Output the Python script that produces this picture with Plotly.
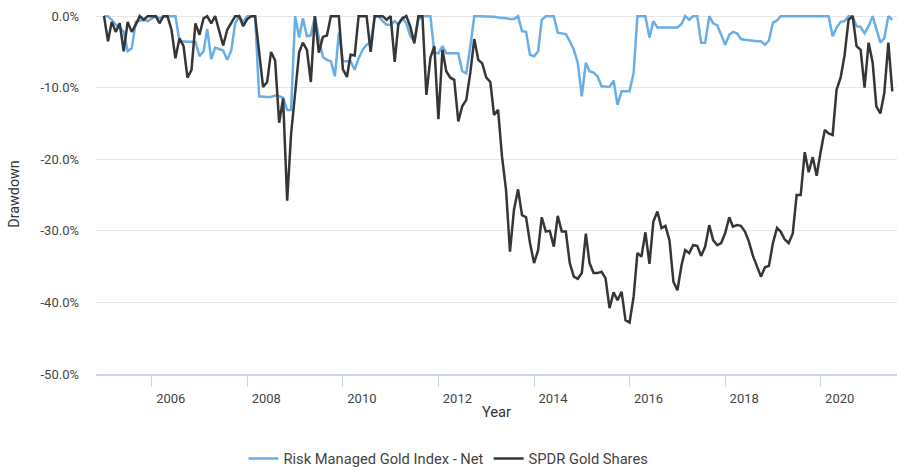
import plotly.graph_objects as go
import pandas as pd

# ---- data (monthly drawdowns, %) ----
start_month = "2005-01-01"

rmgi_net = [
    0, 0, -0.5, -1.2, -1.6, -2.2, -4.9, -4.5, -0.8, -0.6,
    -0.5, -0.7, -0.3, 0, -0.3, 0, 0, 0, 0, -3.5,
    -3.5, -3.5, -3.6, -3.6, -5.6, -4.9, -1.8, -6.0, -4.4, -4.6,
    -4.8, -6.1, -4.8, -1.0, 0, -0.8, 0, 0, 0, -11.2,
    -11.3, -11.3, -11.3, -11.1, -11.2, -11.4, -13.1, -13.1, 0, -3.0,
    -0.3, -2.8, -2.7, 0, -3.0, -5.7, -6.1, -6.3, -8.4, -2.3,
    -6.3, -6.3, -6.3, -7.5, -5.9, -4.7, -4.0, -3.7, 0, 0,
    -0.7, -1.2, -1.2, -0.7, -1.2, -0.3, -1.0, -2.8, -3.5, -0.5,
    0, 0, 0, -5.1, -5.2, -4.2, -5.2, -5.2, -5.2, -5.2,
    -7.7, -8.0, -4.2, 0, 0, 0, -0.1, -0.1, -0.1, -0.2,
    -0.2, -0.3, -0.4, -0.4, 0, -2.1, -2.2, -5.4, -5.6, -4.9,
    -0.5, 0, 0, 0, -2.3, -2.4, -2.5, -3.5, -4.7, -6.5,
    -11.2, -6.5, -7.7, -7.9, -8.4, -9.8, -9.9, -9.9, -9.0, -12.4,
    -10.5, -10.5, -10.5, -7.9, 0, 0, 0, -3.0, -0.7, -1.6,
    -1.6, -1.6, -1.7, -1.7, -1.6, -1.1, 0, -0.5, 0, 0,
    -3.7, -3.7, 0, -1.0, -1.3, -2.6, -4.0, -2.6, -2.2, -2.4,
    -3.2, -3.3, -3.4, -3.4, -3.5, -3.5, -4.0, -3.4, -0.9, -0.6,
    0, 0, 0, -0.1, 0, 0, 0, 0, 0, 0,
    0, 0, 0, -2.8, -1.6, -0.8, -0.7, 0, 0, -1.4,
    -1.5, -2.4, -1.4, 0, -1.9, -3.7, -3.1, 0, -0.5,
]

spdr_gold = [
    0, -3.5, -0.8, -2.2, -1.0, -4.9, -0.8, -2.2, -1.2, 0,
    -0.5, 0, 0, 0, -1.0, 0, 0, -1.9, -5.9, -3.1,
    -4.2, -8.6, -7.5, -1.0, -2.6, -0.3, 0, -1.0, 0, -2.1,
    -4.1, -1.9, -1.0, 0, 0, -1.4, -0.4, 0, 0, -5.0,
    -9.9, -9.2, -5.0, -6.2, -14.9, -11.5, -25.8, -16.5, -10.5, -5.0,
    -3.7, -4.7, -9.2, 0, -5.1, -2.9, -2.7, 0, 0, 0,
    -7.4, -8.5, -5.4, -5.5, 0, 0, 0, -5.0, 0, 0,
    0, -0.5, 0, -6.4, -1.1, -0.3, 0, -1.5, -3.8, 0,
    0, -11.0, -5.8, -4.2, -14.4, -4.7, -7.7, -8.6, -8.9, -14.7,
    -12.6, -11.7, -7.9, -3.2, -6.1, -6.6, -8.6, -9.2, -13.8, -13.1,
    -19.6, -24.3, -32.9, -27.0, -24.2, -27.8, -28.1, -31.7, -34.5, -32.7,
    -28.1, -30.1, -30.0, -32.2, -27.9, -30.1, -30.1, -34.5, -36.4, -36.7,
    -35.9, -30.4, -34.5, -35.9, -35.9, -35.7, -36.6, -40.8, -38.6, -39.7,
    -38.5, -42.5, -42.8, -39.2, -33.1, -33.6, -30.2, -34.6, -28.7, -27.3,
    -29.6, -29.3, -31.3, -37.1, -38.3, -34.8, -32.7, -33.1, -32.0, -32.1,
    -33.5, -32.2, -29.2, -31.3, -32.0, -31.7, -30.3, -28.1, -29.4, -29.2,
    -29.3, -30.1, -31.5, -33.5, -35.0, -36.4, -35.1, -34.9, -31.7, -29.6,
    -30.1, -31.2, -31.7, -30.4, -25.0, -25.0, -19.0, -21.8, -19.7, -22.3,
    -18.9, -15.9, -16.4, -16.6, -10.3, -8.6, -5.5, -0.5, 0, -4.2,
    -4.7, -10.0, -3.7, -6.5, -12.6, -13.6, -10.7, -3.7, -10.5,
]

series_names = ["Risk Managed Gold Index - Net", "SPDR Gold Shares"]
y_tick_values = [0, -10, -20, -30, -40, -50]
y_tick_labels = ["0.0%", "-10.0%", "-20.0%", "-30.0%", "-40.0%", "-50.0%"]

dates = pd.date_range(start_month, periods=len(spdr_gold), freq="MS")

fig = go.Figure()
fig.add_trace(go.Scatter(
    x=dates, y=rmgi_net, mode="lines", name=series_names[0],
    line=dict(color="#6aaee6", width=2.5),
))
fig.add_trace(go.Scatter(
    x=dates, y=spdr_gold, mode="lines", name=series_names[1],
    line=dict(color="#363636", width=2.5),
))

axis_blue = "#c9d4ea"
fig.update_layout(
    width=897, height=467,
    margin=dict(l=96, r=0, t=14, b=93, autoexpand=False),
    paper_bgcolor="white", plot_bgcolor="white",
    font=dict(family="Roboto", size=13, color="#444444"),
    showlegend=True,
    legend=dict(
        orientation="h", xref="container", yref="paper",
        x=0.5, xanchor="center", y=-0.236, yanchor="middle",
        font=dict(family="Roboto", size=14.7, color="#444444"),
    ),
    xaxis=dict(
        type="date", range=["2004-11-01", "2021-08-06"],
        tick0="2006-01-01", dtick="M24", tickformat="%Y",
        ticks="outside", ticklen=11, tickwidth=1, tickcolor=axis_blue,
        showline=True, linecolor=axis_blue, linewidth=2,
        showgrid=False, zeroline=False, ticklabelshift=19,
        tickfont=dict(size=13, color="#444444"),
        title=dict(text="Year", standoff=2, font=dict(size=14.7, color="#333333")),
    ),
    yaxis=dict(
        range=[-50, 0.3], tickvals=y_tick_values, ticktext=y_tick_labels,
        showgrid=True, gridcolor="#e6e6e6", gridwidth=1,
        zeroline=False, showline=False, ticklabelstandoff=16,
        tickfont=dict(size=13, color="#444444"),
        title=dict(text="Drawdown", standoff=17, font=dict(size=14.3, color="#333333")),
    ),
)

fig.write_html(
    "out.html",
    config={"displayModeBar": False},
    post_script="document.body.style.margin='0';",
)
